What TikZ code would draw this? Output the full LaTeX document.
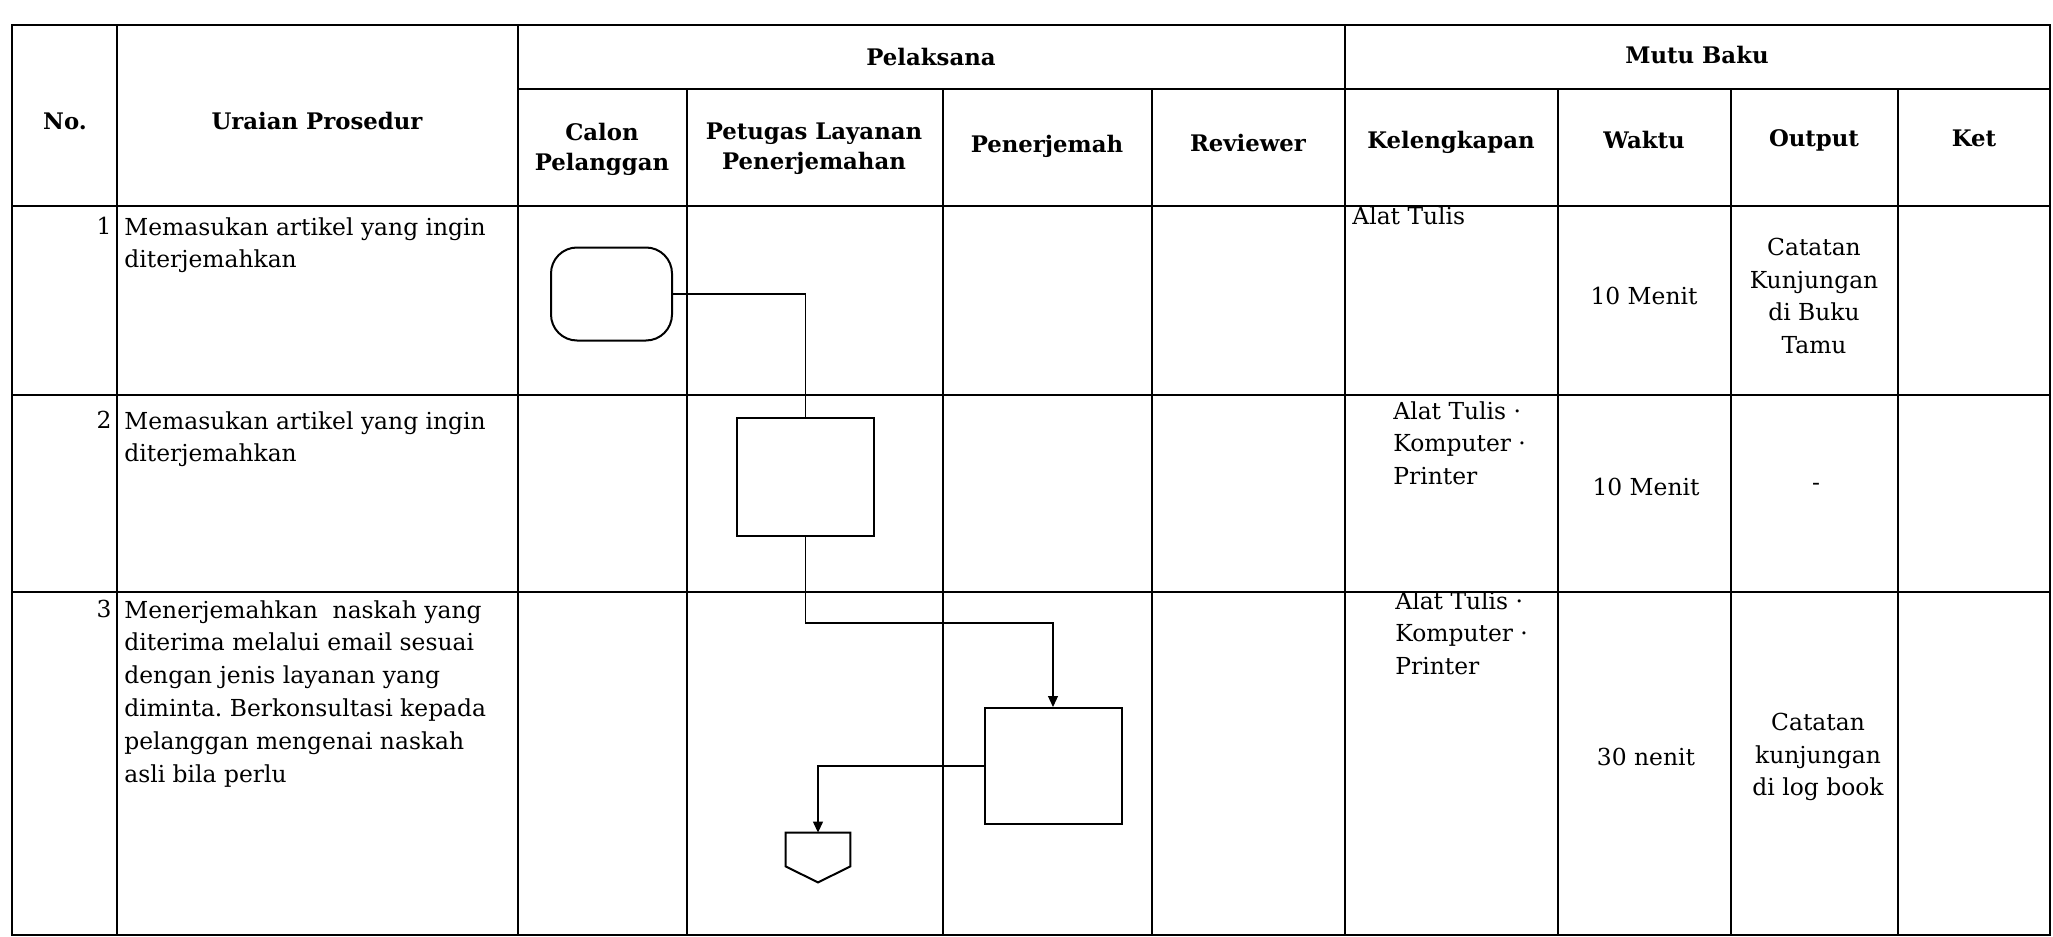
\documentclass[tikz,border=0pt]{standalone}
\usepackage{fontspec}
\setmainfont{DejaVu Serif}
\usetikzlibrary{arrows.meta}
\frenchspacing

\begin{document}
\begin{tikzpicture}[x=0.5pt,y=-0.5pt,
    tbl/.style={line width=1.2pt},
    hd/.style={font=\fontsize{11.4}{15}\selectfont\bfseries,align=center,inner sep=0pt},
    txt/.style={font=\fontsize{11.7}{16.4}\selectfont,align=left,inner sep=0pt,anchor=north west},
    mid/.style={font=\fontsize{11.7}{16.4}\selectfont,align=center,inner sep=0pt},
    proc/.style={draw,line width=1pt,minimum width=68.5pt,minimum height=59pt,inner sep=0pt},
    flow/.style={line width=0.6pt,-{Triangle[length=5.5pt,width=5pt]}}]
  \useasboundingbox (0,0) rectangle (2053,937);
  \draw[tbl] (12,25) rectangle (2050,935);
  \draw[tbl] (117,25) -- (117,935);
  \draw[tbl] (518,25) -- (518,935);
  \draw[tbl] (1345,25) -- (1345,935);
  \draw[tbl] (518,89) -- (2050,89);
  \draw[tbl] (687,89) -- (687,935);
  \draw[tbl] (943,89) -- (943,935);
  \draw[tbl] (1152,89) -- (1152,935);
  \draw[tbl] (1558,89) -- (1558,935);
  \draw[tbl] (1731,89) -- (1731,935);
  \draw[tbl] (1898,89) -- (1898,935);
  \draw[tbl] (12,206) -- (2050,206);
  \draw[tbl] (12,395) -- (2050,395);
  \draw[tbl] (12,592) -- (2050,592);

  \node[hd] (hno) at (65,121) {No.};
  \node[hd] (hur) at (317,121) {Uraian Prosedur};
  \node[hd] (hpl) at (931,57) {Pelaksana};
  \node[hd] (hmb) at (1697,55) {Mutu Baku};
  \node[hd] (hcal) at (602,149) {Calon\\Pelanggan};
  \node[hd] (hpet) at (814,149) {Petugas Layanan\\Penerjemahan};
  \node[hd] (hpen) at (1047,146) {Penerjemah};
  \node[hd] (hrev) at (1248,143) {Reviewer};
  \node[hd] (hkel) at (1451,142) {Kelengkapan};
  \node[hd] (hwak) at (1644,140) {Waktu};
  \node[hd] (hout) at (1814,140) {Output};
  \node[hd] (hket) at (1974,138) {Ket};

  \node[txt,anchor=north east] (n1) at (112,217) {1};
  \node[txt] (u1) at (124,217) {Memasukan artikel yang ingin\\diterjemahkan};
  \node[txt,anchor=north east] (n2) at (112,411) {2};
  \node[txt] (u2) at (124,411) {Memasukan artikel yang ingin\\diterjemahkan};
  \node[txt,anchor=north east] (n3) at (112,600) {3};
  \node[txt] (u3) at (124,600) {Menerjemahkan\ \ naskah yang\\diterima melalui email sesuai\\dengan jenis layanan yang\\diminta. Berkonsultasi kepada\\pelanggan mengenai naskah\\asli bila perlu};

  \node[txt] (k1) at (1352,206) {Alat Tulis};
  \node[mid] (w1) at (1644,296) {10 Menit};
  \node[mid] (o1) at (1814,296) {Catatan\\Kunjungan\\di Buku\\Tamu};
  \node[txt] (k2) at (1393,401) {Alat Tulis ·\\Komputer ·\\Printer};
  \node[mid] (w2) at (1646,487) {10 Menit};
  \node[mid] (o2) at (1816,487) {-};
  \node[txt] (k3) at (1395,591) {Alat Tulis ·\\Komputer ·\\Printer};
  \node[mid] (w3) at (1646,757) {30 nenit};
  \node[mid] (o3) at (1818,757) {Catatan\\kunjungan\\di log book};

  \node[draw,line width=1pt,rounded corners=13pt,minimum width=60.5pt,minimum height=46.5pt,inner sep=0pt] (start) at (611.5,294) {};
  \node[proc] (input) at (805.5,477) {};
  \node[proc,minimum height=58pt] (trans) at (1053,766) {};
  \node[minimum width=32pt,minimum height=24.5pt,inner sep=0pt] (off) at (818,857.5) {};
  \draw[line width=1pt] (off.north west) -- (off.north east) -- ([yshift=8pt]off.south east) -- (off.south) -- ([yshift=8pt]off.south west) -- cycle;

  \draw[line width=0.6pt] (start.east) -| (input.north);
  \coordinate (bend) at (805.5,623);
  \draw[flow] (input.south) -- (bend) -| (trans.north);
  \draw[flow] (trans.west) -| (off.north);
\end{tikzpicture}
\end{document}
